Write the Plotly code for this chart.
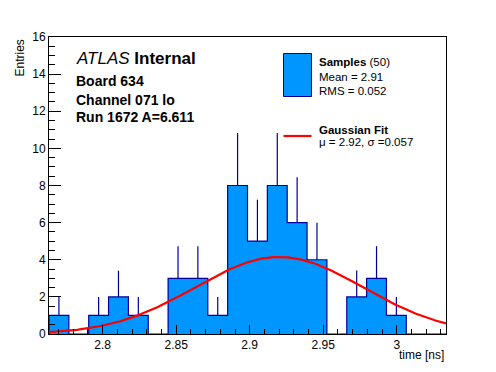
import numpy as np
import plotly.graph_objects as go

# ---- data ----
bin_low = 2.7635
bin_width = 0.0135
counts = [1, 0, 1, 2, 1, 0, 3, 3, 1, 8, 5, 8, 6, 4, 0, 2, 3, 1, 0, 0]
fit_mu = 2.92
fit_sigma = 0.057
fit_amp = 4.15
x_ticks = [2.8, 2.85, 2.9, 2.95, 3.0]
x_tick_labels = ["2.8", "2.85", "2.9", "2.95", "3"]
y_ticks = [0, 2, 4, 6, 8, 10, 12, 14, 16]

W, H = 496, 372
L, R, T, B = 49, 446, 37, 334

FILL = "#0096ff"
EDGE = "#000099"
FONT = "Liberation Sans, Arial, Helvetica, sans-serif"

nb = len(counts)
edges = bin_low + bin_width * np.arange(nb + 1)
centers = 0.5 * (edges[:-1] + edges[1:])
counts_arr = np.array(counts, dtype=float)
errs = np.sqrt(counts_arr)

fig = go.Figure()

# filled bars
fig.add_trace(go.Bar(x=centers, y=counts_arr, width=bin_width,
                     marker=dict(color=FILL, line=dict(width=0)),
                     showlegend=False, hoverinfo="skip"))

# outline contour
step_x = [edges[0]] + list(edges[:-1]) + [edges[-1], edges[-1]]
step_y = [0] + list(counts_arr) + [counts_arr[-1], 0]
fig.add_trace(go.Scatter(x=step_x, y=step_y, mode="lines", line_shape="hv",
                         line=dict(color=EDGE, width=1.2),
                         showlegend=False, hoverinfo="skip"))

# error bars (upper part visible)
fig.add_trace(go.Scatter(x=centers, y=counts_arr, mode="markers",
                         marker=dict(size=1, color="rgba(0,0,0,0)"),
                         error_y=dict(type="data", array=errs, arrayminus=[0] * nb,
                                      symmetric=False, width=0, thickness=1.2,
                                      color=EDGE),
                         showlegend=False, hoverinfo="skip"))

# gaussian fit curve
xf = np.linspace(edges[0], edges[-1], 300)
yf = fit_amp * np.exp(-0.5 * ((xf - fit_mu) / fit_sigma) ** 2)
fig.add_trace(go.Scatter(x=xf, y=yf, mode="lines",
                         line=dict(color="#ff0000", width=2.2),
                         showlegend=False, hoverinfo="skip"))


def px(x):
    return (x - L) / (R - L)


def py(y):
    return (B - y) / (B - T)


annotations = []


def text(x, y, s, size, xanchor="left", yanchor="middle", textangle=0):
    annotations.append(dict(x=px(x), y=py(y), xref="paper", yref="paper",
                            text=s, showarrow=False, xanchor=xanchor,
                            yanchor=yanchor, textangle=textangle,
                            font=dict(family=FONT, size=size, color="black")))


text(74, 58, "<i>ATLAS</i> <b>Internal</b>", 17)
text(74, 81, "<b>Board 634</b>", 14)
text(74, 100, "<b>Channel 071 lo</b>", 14)
text(74, 117, "<b>Run 1672 A=6.611</b>", 14)

text(317, 62, "<b>Samples</b> (50)", 11.5)
text(317, 76.5, "Mean = 2.91", 11.5)
text(317, 90.5, "RMS = 0.052", 11.5)
text(317, 129.5, "<b>Gaussian Fit</b>", 11.5)
text(317, 142, "μ = 2.92, σ =0.057", 11.5)

text(446, 355, "time [ns]", 12, xanchor="right")
text(19, 37, "Entries", 12, xanchor="center", yanchor="top", textangle=-90)

shapes = [
    dict(type="rect", xref="paper", yref="paper",
         x0=px(283.5), x1=px(311.5), y0=py(53.5), y1=py(96.5),
         fillcolor=FILL, line=dict(color=EDGE, width=1)),
    dict(type="line", xref="paper", yref="paper",
         x0=px(283.5), x1=px(311.5), y0=py(136), y1=py(136),
         line=dict(color="#ff0000", width=2.2)),
]

fig.update_layout(
    width=W, height=H,
    margin=dict(l=L, r=W - R, t=T, b=H - B, pad=0, autoexpand=False),
    paper_bgcolor="white", plot_bgcolor="white",
    bargap=0, showlegend=False,
    font=dict(family=FONT, size=12, color="black"),
    annotations=annotations, shapes=shapes,
    xaxis=dict(range=[edges[0], edges[-1]], tickmode="array",
               tickvals=x_ticks, ticktext=x_tick_labels,
               ticks="inside", ticklen=9, tickwidth=1, tickcolor="black",
               minor=dict(dtick=0.01, tick0=2.8, ticks="inside", ticklen=5,
                          tickwidth=1, tickcolor="black", showgrid=False),
               showline=True, linecolor="black", linewidth=1, mirror=True,
               showgrid=False, zeroline=False,
               tickfont=dict(family=FONT, size=12)),
    yaxis=dict(range=[0, 16], tickmode="array", tickvals=y_ticks,
               ticks="inside", ticklen=12, tickwidth=1, tickcolor="black",
               minor=dict(dtick=0.5, tick0=0, ticks="inside", ticklen=6,
                          tickwidth=1, tickcolor="black", showgrid=False),
               showline=True, linecolor="black", linewidth=1, mirror=True,
               showgrid=False, zeroline=False,
               tickfont=dict(family=FONT, size=12)),
)

fig.write_html("out.html", config={"displayModeBar": False},
               post_script="document.body.style.margin='0';document.body.style.overflow='hidden';")
